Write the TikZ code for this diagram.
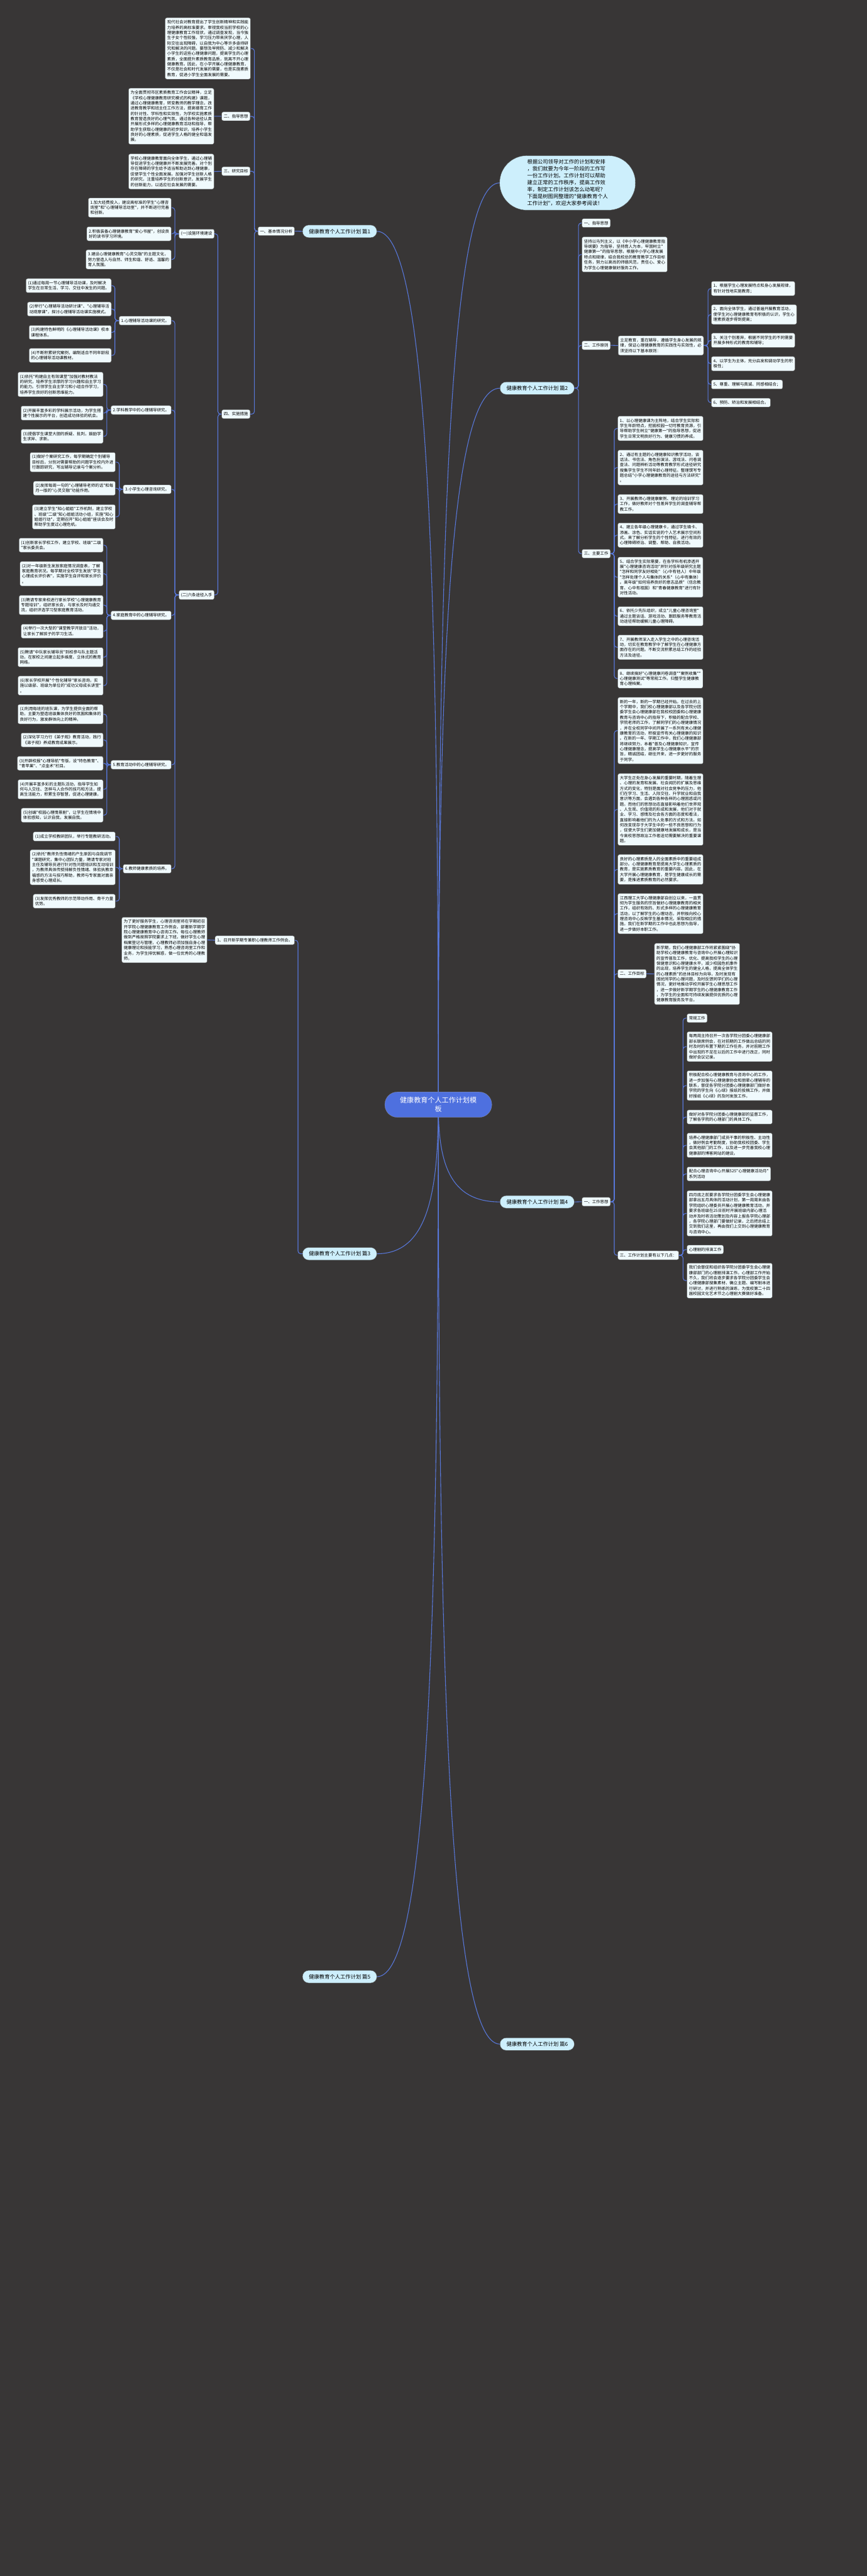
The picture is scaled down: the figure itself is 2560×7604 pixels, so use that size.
\documentclass[tikz,border=0pt]{standalone}
\usepackage{fontspec}
\newfontfamily\cjk{Noto Sans CJK SC}
\usetikzlibrary{backgrounds}
\definecolor{bgdark}{HTML}{383636}
\definecolor{boxfill}{HTML}{F0FAFD}
\definecolor{topicfill}{HTML}{CDEFFC}
\definecolor{rootfill}{HTML}{4E70DF}
\definecolor{linkblue}{HTML}{5878DB}
\pgfdeclarelayer{canvas}
\pgfsetlayers{canvas,background,main}
\tikzset{
  box/.style={draw=black!65,line width=0.7pt,fill=boxfill,rounded corners=5pt,inner xsep=6pt,inner ysep=7.5pt,align=left,font=\cjk\fontsize{12}{15.5}\selectfont},
  lt/.style={box,anchor=north east},
  rt/.style={box,anchor=north west},
  topic/.style={draw=black!65,line width=0.7pt,fill=topicfill,rounded corners=18pt,minimum height=37pt,inner xsep=19pt,inner ysep=0pt,font=\cjk\fontsize{15.4}{18}\selectfont},
  root/.style={draw=black!40,fill=rootfill,text=white,rounded corners=37pt,minimum width=316pt,minimum height=75pt,align=center,font=\cjk\fontsize{20.6}{26.7}\selectfont},
  intro/.style={draw=black!70,line width=0.7pt,fill=topicfill,rounded corners=80pt,minimum width=401pt,minimum height=161pt,align=left,font=\cjk\fontsize{15.4}{20.5}\selectfont},
  link/.style={draw=linkblue,line width=2pt,rounded corners=8pt}
}
\begin{document}
\begin{tikzpicture}[x=1pt,y=-1pt,line join=round]
  \useasboundingbox (0,0) rectangle (2560,7604);
  \begin{pgfonlayer}{canvas}
    \fill[bgdark] (0,0) rectangle (2560,7604);
  \end{pgfonlayer}
  \node[root,anchor=north west] (C) at (1136,3223) {健康教育个人工作计划模\\板};
  \node[intro,anchor=north west] (I0) at (1475,459) {根据公司领导对工作的计划和安排\\，我们就要为今年一阶段的工作写\\一份工作计划。工作计划可以帮助\\建立正常的工作秩序，提高工作效\\率，制定工作计划该怎么动笔呢？\\下面是树图网整理的"健康教育个人\\工作计划"，欢迎大家参考阅读！};
  \node[topic,anchor=north east] (B1) at (1113,664) {健康教育个人工作计划 篇1};
  \node[topic,anchor=north west] (B2) at (1476,1127) {健康教育个人工作计划 篇2};
  \node[topic,anchor=north east] (B3) at (1113,3682) {健康教育个人工作计划 篇3};
  \node[topic,anchor=north west] (B4) at (1476,3529) {健康教育个人工作计划 篇4};
  \node[topic,anchor=north east] (B5) at (1113,5816) {健康教育个人工作计划 篇5};
  \node[topic,anchor=north west] (B6) at (1476,6015) {健康教育个人工作计划 篇6};
  \node[lt] (A1) at (870,669) {一、基本情况分析};
  \node[lt] (A0) at (740,52) {现代社会对教育提出了学生创新精神和实践能\\力培养的高标准要求。审视我校当前学校的心\\理健康教育工作现状，通过调查发现，当今独\\生子女个性较强，学习压力带来厌学心理，人\\际交往出现障碍，以自我为中心等许多亟待研\\究和解决的问题。要想及早预防、减少和解决\\小学生的这些心理健康问题，提高学生的心理\\素质，全面提升素质教育品质，就离不开心理\\健康教育。因此，在小学开展心理健康教育，\\不仅是社会和时代发展的需要，也是实施素质\\教育，促进小学生全面发展的需要。};
  \node[lt] (A2) at (739,330) {二、指导思想};
  \node[lt] (A2t) at (632,260) {为全面贯彻市区素质教育工作会议精神，立足\\《学校心理健康教育研究模式的构建》课题，\\通过心理健康教育，转变教师的教学理念，改\\进教育教学和班主任工作方法，提高德育工作\\的针对性、学科性和实效性，为学校实施素质\\教育营造良好的心理气氛。通过各种途径认真\\开展形式多样的心理健康教育活动和指导，帮\\助学生获取心理健康的初步知识，培养小学生\\良好的心理素质，促进学生人格的健全和谐发\\展。};
  \node[lt] (A3) at (739,492) {三、研究目标};
  \node[lt] (A3t) at (632,454) {学校心理健康教育面向全体学生，通过心理辅\\导促进学生心理健康并不断发展完善。对个别\\存在障碍的学生给予适当帮助达到心理健康，\\促使学生个性全面发展。加强对学生创新人格\\的研究，注重培养学生的创新意识，发展学生\\的创新能力，以适应社会发展的需要。};
  \node[lt] (A4) at (739,1209) {四、实施措施};
  \node[lt] (A41) at (633,676) {(一)设施环境建设};
  \node[lt] (A411) at (506,584) {1.加大经费投入，建设高标准的学生"心理咨\\询室"和"心理辅导活动室"，并不断进行完善\\和创新。};
  \node[lt] (A412) at (506,669) {2.积极装备心理健康教育"爱心书屋"，创设良\\好的读书学习环境。};
  \node[lt] (A413) at (506,737) {3.建设心理健康教育"心灵交融"的主题文化，\\努力营造人与自然、师生和谐、舒适、温馨的\\育人氛围。};
  \node[lt] (A42) at (633,1742) {(二)六条途径入手};
  \node[lt] (R1) at (506,933) {1.心理辅导活动课的研究。};
  \node[lt] (R11) at (329,822) {(1)通过每周一节心理辅导活动课，及时解决\\学生在日常生活、学习、交往中发生的问题。};
  \node[lt] (R12) at (329,891) {(2)举行"心理辅导活动研讨课"、"心理辅导活\\动观摩课"，探讨心理辅导活动课实施模式。};
  \node[lt] (R13) at (329,960) {(3)构建特色鲜明的《心理辅导活动课》校本\\课程体系。};
  \node[lt] (R14) at (329,1028) {(4)不断积累研究案例，编制适合不同年龄段\\的心理辅导活动课教材。};
  \node[lt] (R2) at (506,1197) {2.学科教学中的心理辅导研究。};
  \node[lt] (R21) at (305,1098) {(1)依托"构建自主有效课堂"加强对教材教法\\的研究，培养学生浓厚的学习兴趣和自主学习\\的能力。引领学生自主学习和小组合作学习，\\培养学生良好的创新思维能力。};
  \node[lt] (R22) at (305,1198) {(2)开展丰富多彩的学科展示活动，为学生搭\\建个性展示的平台，创造成功体验的机会。};
  \node[lt] (R23) at (305,1267) {(3)提倡学生课堂大胆的质疑、批判，鼓励学\\生求异、求新。};
  \node[lt] (R3) at (506,1431) {3.小学生心理咨询研究。};
  \node[lt] (R31) at (341,1335) {(1)做好个案研究工作，每学期确定个别辅导\\目标后，分别对需要帮助的问题学生校内外进\\行跟踪研究，写出辅导记录与个案分析。};
  \node[lt] (R32) at (341,1420) {(2)发挥每周一句的"心理辅导老师的话"和每\\月一版的"心灵交融"功能作用。};
  \node[lt] (R33) at (341,1489) {(3)建立学生"知心姐姐"工作机制，建立学校\\、班级"二级"知心姐姐活动小组，实施"知心\\姐姐行动"，定期召开"知心姐姐"座谈会及时\\帮助学生度过心理危机。};
  \node[lt] (R4) at (506,1803) {4.家庭教育中的心理辅导研究。};
  \node[lt] (R41) at (305,1588) {(1)创新家长学校工作，建立学校、班级"二级\\"家长委员会。};
  \node[lt] (R42) at (305,1657) {(2)对一年级新生发放家庭情况调查表，了解\\家庭教育状况。每学期对全校学生发放"学生\\心理成长评价表"，实施学生自评和家长评价\\。};
  \node[lt] (R43) at (305,1757) {(3)聘请专家来校进行家长学校"心理健康教育\\专题培训"，组织家长会，与家长及时沟通交\\流，组织评选学习型家庭教育活动。};
  \node[lt] (R44) at (305,1842) {(4)举行一次大型的"课堂教学开放日"活动，\\让家长了解孩子的学习生活。};
  \node[lt] (R45) at (305,1911) {(5)聘请"中队家长辅导员"到校参与队主题活\\动，在家校之间建立起多维度、立体式的教育\\网络。};
  \node[lt] (R46) at (305,1995) {(6)家长学校开展"个性化辅导"家长咨询，实\\施以级部、班级为单位的"成功父母成长讲堂"\\。};
  \node[lt] (R5) at (506,2244) {5.教育活动中的心理辅导研究。};
  \node[lt] (R51) at (305,2079) {(1)利用每班的班队课，为学生提供全面的帮\\助，主要为塑造班级集体良好的氛围和集体的\\良好行为，激发群体向上的精神。};
  \node[lt] (R52) at (305,2163) {(2)深化学习力行《弟子规》教育活动，践行\\《弟子规》养成教育成果展示。};
  \node[lt] (R53) at (305,2232) {(3)开辟校报"心理导航"专版，设"特色教育"、\\"青苹果"、"点金术"栏目。};
  \node[lt] (R54) at (305,2301) {(4)开展丰富多彩的主题队活动，指导学生如\\何与人交往、怎样与人合作的技巧和方法，提\\高生活能力，积累生存智慧，促进心理健康。};
  \node[lt] (R55) at (305,2385) {(5)创编"校园心理情景剧"，让学生在情境中\\体验感知，认识自我，发展自我。};
  \node[lt] (R6) at (506,2551) {6.教师健康素质的培养。};
  \node[lt] (R61) at (341,2455) {(1)成立学校教研团队，举行专题教研活动。};
  \node[lt] (R62) at (341,2508) {(2)依托"教师负性情绪的产生原因与自我调节\\"课题研究，集中心团队力量，聘请专家对班\\主任及辅导员进行针对性问题培训和互动培训\\，为教师具体传授排解负性情绪、体验执教幸\\福感的方法与技巧帮助，教师与专家面对面亲\\身感受心理成长。};
  \node[lt] (R63) at (341,2639) {(3)发挥优秀教师的示范带动作用、骨干力量\\优势。};
  \node[lt] (H1) at (870,2762) {1、召开新学期专兼职心理教师工作例会。};
  \node[lt] (H1t) at (612,2707) {为了更好服务学生，心理咨询室将在学期初召\\开学院心理健康教育工作例会，部署新学期学\\院心理健康教育中心咨询工作。每位心理教师\\做到严格按照学院要求上下班，做好学生心理\\档案登记与管理，心理教师必须加强自身心理\\健康理论和技能学习，熟悉心理咨询室工作和\\业务，为学生排忧解惑，做一位优秀的心理教\\师。};
  \node[rt] (S1) at (1718,645) {一、指导思想};
  \node[rt] (S1t) at (1718,699) {坚持以马列主义，以《中小学心理健康教育指\\导纲要》为指导，坚持育人为本，牢固树立"\\健康第一"的指导思想，根据中小学心理发展\\特点和规律，结合我校总的教育教学工作目标\\任务，努力以高尚的师德风范，责任心、爱心\\为学生心理健康做好服务工作。};
  \node[rt] (S2) at (1718,1006) {二、工作原则};
  \node[rt] (S2t) at (1825,991) {立足教育，重在辅导，遵循学生身心发展的规\\律，保证心理健康教育的实践性与实效性，必\\须坚持以下基本原则：};
  \node[rt] (P1) at (2100,830) {1、根据学生心理发展特点和身心发展规律，\\有针对性地实施教育；};
  \node[rt] (P2) at (2100,899) {2、面向全体学生，通过普遍开展教育活动，\\使学生对心理健康教育有积极的认识，学生心\\理素质逐步得到提高；};
  \node[rt] (P3) at (2100,983) {3、关注个别差异，根据不同学生的不同需要\\开展多种形式的教育和辅导；};
  \node[rt] (P4) at (2100,1052) {4、以学生为主体，充分启发和调动学生的积\\极性；};
  \node[rt] (P5) at (2100,1121) {5、尊重、理解与真诚、同感相结合；};
  \node[rt] (P6) at (2100,1175) {6、预防、矫治和发展相结合。};
  \node[rt] (S3) at (1718,1621) {三、主要工作};
  \node[rt] (W1) at (1824,1228) {1、以心理健康课为主阵地，结合学生实际和\\学生年龄特点，挖掘校园一切可教育资源，引\\导帮助学生树立"健康第一"的指导思想，促进\\学生日常文明良好行为、健康习惯的养成。};
  \node[rt] (W2) at (1824,1328) {2、通过有主题的心理健康知识教学活动，谈\\话法、书信法、角色扮演法、游戏法、问卷调\\查法、问题辨析活动等教育教学形式途径研究\\搜集学生学生不同年龄心理特征。整理馔写专\\题总结"小学心理健康教育的途径与方法研究"\\。};
  \node[rt] (W3) at (1824,1459) {3、开展教师心理健康案例、理论的培训学习\\工作，做好教师对个性差异学生的调查辅导帮\\教工作。};
  \node[rt] (W4) at (1824,1543) {4、建立各年级心理健康卡，通过学生填卡、\\添画、涂色、实话实说的个人艺术展示空间形\\式。来了解分析学生的个性特征。进行有效的\\心理障碍矫治、调整、帮助、自救活动。};
  \node[rt] (W5) at (1824,1644) {5、结合学生实际需要，在各学科有机渗透开\\展"心理健康咨询活动"并针对低年级研究主题\\"怎样和同学友好相处"（心中有他人）中年级\\"怎样处理个人与集体的关系"（心中有集体）\\。高年级"如何培养良好的意志品质"（信念教\\育、心中有祖国）和"青春健康教育"进行有针\\对性活动。};
  \node[rt] (W6) at (1824,1790) {6、依托少先队组织，成立"儿童心理咨询室"\\通过主题谈话、游戏活动、跟踪服务等教育活\\动途径帮助缓解儿童心理障碍。};
  \node[rt] (W7) at (1824,1874) {7、开展教师深入走入学生之中的心理咨询活\\动，切实在教育教学中了解学生在心理健康方\\面存在的问题。不断交流积累总结工作的经验\\方法及途径。};
  \node[rt] (W8) at (1824,1974) {8、继续搞好"心理健康问卷调查""案例收集""\\心理健康测试"等常规工作。归整学生健康教\\育心理档案。};
  \node[rt] (Q1) at (1718,3534) {一、工作思想};
  \node[rt] (T1) at (1824,2058) {新的一年，新的一学期已经开始。在过去的上\\个学期中，我们校心理健康部以及各学院分团\\委学生会心理健康部在我校校团委和心理健康\\教育与咨询中心的指导下，积极的配合学校、\\学院老师的工作，了解同学们的心理健康情况\\，并在全校同学中间开展了一系列有关心理健\\康教育的活动，积极宣传有关心理健康的知识\\。在新的一年、学期工作中，我们心理健康部\\将继续努力，本着"普及心理健康知识，宣传\\心理健康理念，提高学生心理健康水平"的宗\\旨，精诚团结，继往开来，进一步更好的服务\\于同学。};
  \node[rt] (T2) at (1824,2283) {大学生正处在身心发展的重要时期，随着生理\\、心理的发育和发展、社会阅历的扩展及思维\\方式的变化，特别是面对社会竞争的压力，他\\们在学习、生活、人际交往、升学就业和自我\\意识等方面，会遇到各种各样的心理困惑或问\\题。而他们的思想动态直接影响着他们世界观\\、人生观、价值观的形成和发展，他们对于就\\业、学习、感情及社会各方面的态度和看法，\\直接影响着他们的为人处事的方式和方法。如\\何改变现存于大学生中的一些不良思想和行为\\，促使大学生们更加健康地发展和成长，是当\\今高校思想政治工作者迫切需要解决的重要课\\题。};
  \node[rt] (T3) at (1824,2522) {良好的心理素质是人的全面素质中的重要组成\\部分。心理健康教育是提高大学生心理素质的\\教育，是实施素质教育的重要内容。因此，在\\大学开展心理健康教育，是学生健康成长的需\\要，是推进素质教育的必然要求。};
  \node[rt] (T4) at (1824,2637) {江西理工大学心理健康部自创立以来，一直贯\\彻为学生服务的宗旨做好心理健康教育的相关\\工作，组织有效的、形式多样的心理健康教育\\活动，以了解学生的心理动态，并积极向校心\\理咨询中心反映学生基本情况，采取相应的措\\施。我们在新学期的工作中也此思想为指导，\\进一步做好本职工作。};
  \node[rt] (Q2) at (1824,2861) {二、工作目标};
  \node[rt] (Q2t) at (1932,2784) {新学期，我们心理健康部工作将紧紧围绕"协\\助学校心理健康教育与咨询中心开展心理知识\\的宣传普及工作，优化、提高我校学生的心理\\保健意识和心理健康水平，减少校园危机事件\\的出现，培养学生的健全人格，提高全体学生\\的心理素质"的总体目标为向导，及时发现有\\困扰同学的心理问题，及时反馈同学们的心理\\情况，更好地推动学校开展学生心理思想工作\\，进一步做好新学期学生的心理健康教育工作\\，为学生的全面和可持续发展提供优质的心理\\健康教育服务及平台。};
  \node[rt] (Q3) at (1824,3692) {三、工作计划主要有以下几点：};
  \node[rt] (K1) at (2028,2992) {常规工作};
  \node[rt] (K2) at (2028,3045) {每两周主持召开一次各学院分团委心理健康部\\部长联席例会，在对前期的工作做出总结的同\\时及时的布置下期的工作任务，并对前期工作\\中出现的不足在以后的工作中进行改正，同时\\做好会议记录。};
  \node[rt] (K3) at (2028,3160) {积极配合校心理健康教育与咨询中心的工作，\\进一步加强与心理健康协会和朋辈心理辅导的\\联系，督促各学院分团委心理健康部门做好本\\学院的学生向《心绿》报纸的投稿工作，并做\\好报纸《心绿》的及时发放工作。};
  \node[rt] (K4) at (2028,3276) {做好对各学院分团委心理健康部的监督工作，\\了解各学院的心理部门的具体工作。};
  \node[rt] (K5) at (2028,3344) {培养心理健康部门成员干事的积极性、主动性\\，做好例会考勤制度，协助我校校团委、学生\\会其他部门的工作，以及进一步完善我校心理\\健康部的博客网站的建设。};
  \node[rt] (K6) at (2028,3444) {配合心理咨询中心开展525"心理健康活动月"\\系列活动};
  \node[rt] (K7) at (2028,3514) {四月底之前要求各学院分团委学生会心理健康\\部拿出五月具体的活动计划，第一周周末由各\\学院组织心理委员开展心理健康教育活动，并\\要求各班级在25日前时开展班级内部心理活\\动并及时将活动策划及内容上报各学院心理部\\，各学院心理部门要做好记录，之后把总结上\\交到我们这里，再由我们上交到心理健康教育\\与咨询中心。};
  \node[rt] (K8) at (2028,3675) {心理剧的排演工作};
  \node[rt] (K9) at (2028,3728) {我们会督促和组织各学院分团委学生会心理健\\康部部门的心理剧排演工作。心理部工作开始\\不久，我们将会逐步要求各学院分团委学生会\\心理健康部搜集素材、确立主题、编写剧本进\\行研讨，并进行熟练的演练，为我校第二十四\\届校园文化艺术节之心理剧大赛做好准备。};
  \begin{pgfonlayer}{background}
    \draw[link] (B1.east) .. controls +(150,0) and +(0,-1550) .. (C.center);
    \draw[link] (I0.west) .. controls +(-150,0) and +(0,-1630) .. (C.center);
    \draw[link] (B2.west) .. controls +(-150,0) and +(0,-1270) .. (C.center);
    \draw[link] (B3.east) .. controls +(150,0) and +(0,260) .. (C.center);
    \draw[link] (B4.west) .. controls +(-150,0) and +(0,170) .. (C.center);
    \draw[link] (B5.east) .. controls +(150,0) and +(0,1540) .. (C.center);
    \draw[link] (B6.west) .. controls +(-150,0) and +(0,1660) .. (C.center);
    \draw[link] (B1.west) -- (A1.east);
    \draw[link] (A1.west) -- ++(-10,0) |- (A0.east);
    \draw[link] (A1.west) -- ++(-10,0) |- (A2.east);
    \draw[link] (A1.west) -- ++(-10,0) |- (A3.east);
    \draw[link] (A1.west) -- ++(-10,0) |- (A4.east);
    \draw[link] (A2.west) -- (A2t.east);
    \draw[link] (A3.west) -- (A3t.east);
    \draw[link] (A4.west) -- ++(-11,0) |- (A41.east);
    \draw[link] (A4.west) -- ++(-11,0) |- (A42.east);
    \draw[link] (A41.west) -- ++(-12,0) |- (A411.east);
    \draw[link] (A41.west) -- ++(-12,0) |- (A412.east);
    \draw[link] (A41.west) -- ++(-12,0) |- (A413.east);
    \draw[link] (A42.west) -- ++(-12,0) |- (R1.east);
    \draw[link] (A42.west) -- ++(-12,0) |- (R2.east);
    \draw[link] (A42.west) -- ++(-12,0) |- (R3.east);
    \draw[link] (A42.west) -- ++(-12,0) |- (R4.east);
    \draw[link] (A42.west) -- ++(-12,0) |- (R5.east);
    \draw[link] (A42.west) -- ++(-12,0) |- (R6.east);
    \draw[link] (R1.west) -- ++(-12,0) |- (R11.east);
    \draw[link] (R1.west) -- ++(-12,0) |- (R12.east);
    \draw[link] (R1.west) -- ++(-12,0) |- (R13.east);
    \draw[link] (R1.west) -- ++(-12,0) |- (R14.east);
    \draw[link] (R2.west) -- ++(-12,0) |- (R21.east);
    \draw[link] (R2.west) -- ++(-12,0) |- (R22.east);
    \draw[link] (R2.west) -- ++(-12,0) |- (R23.east);
    \draw[link] (R3.west) -- ++(-11,0) |- (R31.east);
    \draw[link] (R3.west) -- ++(-11,0) |- (R32.east);
    \draw[link] (R3.west) -- ++(-11,0) |- (R33.east);
    \draw[link] (R4.west) -- ++(-12,0) |- (R41.east);
    \draw[link] (R4.west) -- ++(-12,0) |- (R42.east);
    \draw[link] (R4.west) -- ++(-12,0) |- (R43.east);
    \draw[link] (R4.west) -- ++(-12,0) |- (R44.east);
    \draw[link] (R4.west) -- ++(-12,0) |- (R45.east);
    \draw[link] (R4.west) -- ++(-12,0) |- (R46.east);
    \draw[link] (R5.west) -- ++(-12,0) |- (R51.east);
    \draw[link] (R5.west) -- ++(-12,0) |- (R52.east);
    \draw[link] (R5.west) -- ++(-12,0) |- (R53.east);
    \draw[link] (R5.west) -- ++(-12,0) |- (R54.east);
    \draw[link] (R5.west) -- ++(-12,0) |- (R55.east);
    \draw[link] (R6.west) -- ++(-11,0) |- (R61.east);
    \draw[link] (R6.west) -- ++(-11,0) |- (R62.east);
    \draw[link] (R6.west) -- ++(-11,0) |- (R63.east);
    \draw[link] (B3.west) -- ++(-13,0) |- (H1.east);
    \draw[link] (H1.west) -- (H1t.east);
    \draw[link] (B2.east) -- ++(12,0) |- (S1.west);
    \draw[link] (B2.east) -- ++(12,0) |- (S1t.west);
    \draw[link] (B2.east) -- ++(12,0) |- (S2.west);
    \draw[link] (B2.east) -- ++(12,0) |- (S3.west);
    \draw[link] (S2.east) -- (S2t.west);
    \draw[link] (S2t.east) -- ++(13,0) |- (P1.west);
    \draw[link] (S2t.east) -- ++(13,0) |- (P2.west);
    \draw[link] (S2t.east) -- ++(13,0) |- (P3.west);
    \draw[link] (S2t.east) -- ++(13,0) |- (P4.west);
    \draw[link] (S2t.east) -- ++(13,0) |- (P5.west);
    \draw[link] (S2t.east) -- ++(13,0) |- (P6.west);
    \draw[link] (S3.east) -- ++(11,0) |- (W1.west);
    \draw[link] (S3.east) -- ++(11,0) |- (W2.west);
    \draw[link] (S3.east) -- ++(11,0) |- (W3.west);
    \draw[link] (S3.east) -- ++(11,0) |- (W4.west);
    \draw[link] (S3.east) -- ++(11,0) |- (W5.west);
    \draw[link] (S3.east) -- ++(11,0) |- (W6.west);
    \draw[link] (S3.east) -- ++(11,0) |- (W7.west);
    \draw[link] (S3.east) -- ++(11,0) |- (W8.west);
    \draw[link] (B4.east) -- (Q1.west);
    \draw[link] (Q1.east) -- ++(11,0) |- (T1.west);
    \draw[link] (Q1.east) -- ++(11,0) |- (T2.west);
    \draw[link] (Q1.east) -- ++(11,0) |- (T3.west);
    \draw[link] (Q1.east) -- ++(11,0) |- (T4.west);
    \draw[link] (Q1.east) -- ++(11,0) |- (Q2.west);
    \draw[link] (Q1.east) -- ++(11,0) |- (Q3.west);
    \draw[link] (Q2.east) -- (Q2t.west);
    \draw[link] (Q3.east) -- ++(12,0) |- (K1.west);
    \draw[link] (Q3.east) -- ++(12,0) |- (K2.west);
    \draw[link] (Q3.east) -- ++(12,0) |- (K3.west);
    \draw[link] (Q3.east) -- ++(12,0) |- (K4.west);
    \draw[link] (Q3.east) -- ++(12,0) |- (K5.west);
    \draw[link] (Q3.east) -- ++(12,0) |- (K6.west);
    \draw[link] (Q3.east) -- ++(12,0) |- (K7.west);
    \draw[link] (Q3.east) -- ++(12,0) |- (K8.west);
    \draw[link] (Q3.east) -- ++(12,0) |- (K9.west);
  \end{pgfonlayer}
\end{tikzpicture}
\end{document}
